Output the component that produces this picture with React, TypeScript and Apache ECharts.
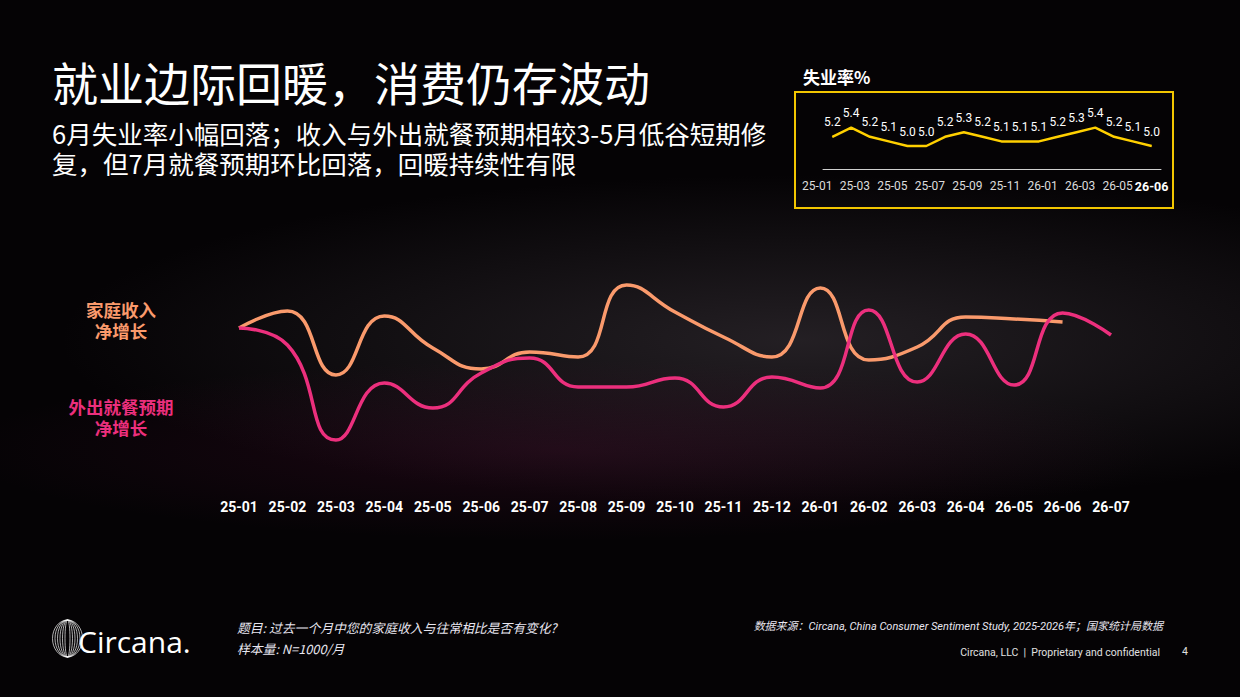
import React, { useEffect, useRef } from "react";
import * as echarts from "echarts";

const months = [
  "25-01", "25-02", "25-03", "25-04", "25-05", "25-06", "25-07", "25-08", "25-09", "25-10",
  "25-11", "25-12", "26-01", "26-02", "26-03", "26-04", "26-05", "26-06", "26-07",
];
// 家庭收入净增长 (estimated, chart has no value axis)
const incomeNet = [32.4, 35.8, 23.0, 34.8, 28.4, 24.2, 27.6, 26.6, 41.0, 35.6, 30.6, 26.6, 40.4, 26.0, 28.6, 34.6, 34.2, 33.6, null];
// 外出就餐预期净增长 (estimated)
const diningNet = [32.4, 29.0, 10.0, 21.4, 16.4, 23.4, 26.4, 20.6, 20.6, 22.4, 16.6, 22.6, 20.4, 36.0, 21.6, 31.2, 21.0, 35.4, 31.0];

const unempMonths = [
  "25-01", "25-02", "25-03", "25-04", "25-05", "25-06", "25-07", "25-08", "25-09",
  "25-10", "25-11", "25-12", "26-01", "26-02", "26-03", "26-04", "26-05", "26-06",
];
const unempRate = [5.2, 5.4, 5.2, 5.1, 5.0, 5.0, 5.2, 5.3, 5.2, 5.1, 5.1, 5.1, 5.2, 5.3, 5.4, 5.2, 5.1, 5.0];

const title = "就业边际回暖，消费仍存波动";
const subtitle = "6月失业率小幅回落；收入与外出就餐预期相较3-5月低谷短期修\n复，但7月就餐预期环比回落，回暖持续性有限";

const ORANGE = "#FA9A6C";
const PINK = "#EC2F7D";
const YELLOW = "#FFD000";
const CJK = '"Noto Sans CJK SC", "Noto Sans", sans-serif';
const LAT = 'Roboto, "Noto Sans CJK SC", sans-serif';

export default function App() {
  const ref = useRef<HTMLDivElement>(null);
  useEffect(() => {
    document.body.style.margin = "0";
    const chart = echarts.init(ref.current!, null, { renderer: "svg", width: 1240, height: 697 });
    const logoRx = [15, 12.5, 10, 7.5, 5, 2.5];
    const option: any = {
      animation: false,
      backgroundColor: "#050305",
      graphic: [
        {
          type: "ellipse", z: -10, silent: true,
          shape: { cx: 800, cy: 340, rx: 740, ry: 165 },
          style: {
            fill: {
              type: "radial", x: 0.5, y: 0.5, r: 0.5,
              colorStops: [
                { offset: 0, color: "rgba(78,70,78,0.42)" },
                { offset: 1, color: "rgba(78,70,78,0)" },
              ],
            },
          },
        },
        {
          type: "ellipse", z: -9, silent: true,
          shape: { cx: 560, cy: 450, rx: 600, ry: 90 },
          style: {
            fill: {
              type: "radial", x: 0.5, y: 0.5, r: 0.5,
              colorStops: [
                { offset: 0, color: "rgba(110,20,70,0.22)" },
                { offset: 1, color: "rgba(110,20,70,0)" },
              ],
            },
          },
        },
        { type: "text", x: 52, y: 81, style: { text: title, fill: "#fff", fontSize: 46, fontFamily: CJK, textVerticalAlign: "middle" } },
        { type: "text", x: 52, y: 117, style: { text: subtitle, fill: "#fff", fontSize: 25.5, lineHeight: 30, fontFamily: CJK } },
        { type: "text", x: 121, y: 298.5, style: { text: "家庭收入\n净增长", fill: ORANGE, fontSize: 17.5, lineHeight: 21, fontWeight: "bold", fontFamily: CJK, textAlign: "center" } },
        { type: "text", x: 121, y: 395.5, style: { text: "外出就餐预期\n净增长", fill: PINK, fontSize: 17.5, lineHeight: 21, fontWeight: "bold", fontFamily: CJK, textAlign: "center" } },
        { type: "text", x: 803, y: 76, style: { text: "失业率%", fill: "#fff", fontSize: 17, fontWeight: "bold", fontFamily: CJK, textVerticalAlign: "middle" } },
        { type: "rect", shape: { x: 795, y: 92, width: 378, height: 116 }, style: { fill: "none", stroke: "#F2C600", lineWidth: 2 } },
        ...logoRx.map((rx) => ({
          type: "ellipse", shape: { cx: 67.5, cy: 638.5, rx, ry: 18.5 },
          style: { fill: "none", stroke: "rgba(255,255,255,0.85)", lineWidth: 0.8 },
        })),
        { type: "text", x: 78, y: 641, style: { text: "Circana.", fill: "#fff", fontSize: 30, fontFamily: '"Open Sans", sans-serif', textVerticalAlign: "middle" } },
        { type: "text", x: 237, y: 627, style: { text: "题目: 过去一个月中您的家庭收入与往常相比是否有变化?", fill: "#E8E6F0", fontSize: 12.8, fontStyle: "italic", fontFamily: CJK, textVerticalAlign: "middle" } },
        { type: "text", x: 237, y: 648, style: { text: "样本量: N=1000/月", fill: "#E8E6F0", fontSize: 12.8, fontStyle: "italic", fontFamily: CJK, textVerticalAlign: "middle" } },
        { type: "text", x: 1163, y: 626, style: { text: "数据来源：Circana, China Consumer Sentiment Study, 2025-2026年；国家统计局数据", fill: "#E8E6F0", fontSize: 11, fontStyle: "italic", fontFamily: LAT, textAlign: "right", textVerticalAlign: "middle" } },
        { type: "text", x: 1160, y: 652, style: { text: "Circana, LLC  |  Proprietary and confidential", fill: "#E0E0E0", fontSize: 10.5, fontFamily: LAT, textAlign: "right", textVerticalAlign: "middle" } },
        { type: "text", x: 1185, y: 651, style: { text: "4", fill: "#E0E0E0", fontSize: 10.5, fontFamily: LAT, textAlign: "center", textVerticalAlign: "middle" } },
      ],
      grid: [
        { left: 239, right: 129, top: 270, bottom: 207 },
        { left: 823, right: 79, top: 100, bottom: 528 },
      ],
      xAxis: [
        {
          gridIndex: 0, type: "category", data: months, boundaryGap: false,
          axisLine: { show: false }, axisTick: { show: false }, splitLine: { show: false },
          axisLabel: { interval: 0, color: "#fff", fontFamily: LAT, fontWeight: "bold", fontSize: 14, margin: 10 },
        },
        {
          gridIndex: 1, type: "category", data: unempMonths, boundaryGap: true, position: "bottom",
          axisLine: { show: true, lineStyle: { color: "#CFCFCF", width: 1 } },
          axisTick: { show: false }, splitLine: { show: false },
          axisLabel: {
            interval: (i: number) => i % 2 === 0 && i < 17,
            align: "right", color: "#DCDCDC", fontFamily: LAT, fontSize: 12, margin: 11,
          },
        },
        {
          gridIndex: 1, type: "category", data: unempMonths, boundaryGap: true, position: "bottom", offset: 0,
          axisLine: { show: false }, axisTick: { show: false }, splitLine: { show: false },
          axisLabel: {
            interval: (i: number) => i === 17,
            align: "center", color: "#fff", fontWeight: "bold", fontFamily: LAT, fontSize: 12.5, margin: 11,
          },
        },
      ],
      yAxis: [
        { gridIndex: 0, type: "value", min: 0, max: 44, show: false },
        { gridIndex: 1, type: "value", min: 4.5, max: 6.0, show: false },
      ],
      series: [
        {
          name: "家庭收入净增长", type: "line", xAxisIndex: 0, yAxisIndex: 0, data: incomeNet,
          smooth: 0.5, showSymbol: false, lineStyle: { color: ORANGE, width: 3.5 }, itemStyle: { color: ORANGE },
        },
        {
          name: "外出就餐预期净增长", type: "line", xAxisIndex: 0, yAxisIndex: 0, data: diningNet,
          smooth: 0.5, showSymbol: false, lineStyle: { color: PINK, width: 3.5 }, itemStyle: { color: PINK },
        },
        {
          name: "失业率%", type: "line", xAxisIndex: 1, yAxisIndex: 1, data: unempRate,
          symbol: "circle", symbolSize: 1, showSymbol: true,
          lineStyle: { color: YELLOW, width: 2.5 }, itemStyle: { color: YELLOW },
          label: {
            show: true, position: "top", distance: 8, color: "#fff", fontFamily: LAT, fontSize: 12,
            formatter: (p: any) => Number(p.value).toFixed(1),
          },
        },
      ],
    };
    chart.setOption(option);
    return () => chart.dispose();
  }, []);
  return <div ref={ref} style={{ position: "fixed", left: 0, top: 0, width: 1240, height: 697 }} />;
}
